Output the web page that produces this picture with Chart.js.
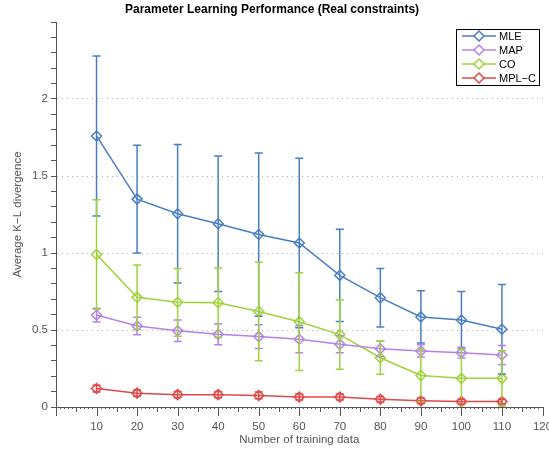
<!DOCTYPE html>
<html>
<head>
<meta charset="utf-8">
<script src="https://cdn.jsdelivr.net/npm/chart.js@4/dist/chart.umd.min.js"></script>
<style>
    html, body { margin: 0; padding: 0; background: #fff; }
    #wrap { width: 549px; height: 451px; position: relative; }
</style>
</head>
<body>
<div id="wrap"><canvas id="klChart"></canvas></div>
<script>
// Training set sizes
const trainSizes = [10, 20, 30, 40, 50, 60, 70, 80, 90, 100, 110];

// Average K-L divergence per method, with error bar half-lengths
const mleMean = [1.76, 1.35, 1.255, 1.19, 1.12, 1.065, 0.855, 0.71, 0.585, 0.565, 0.505];
const mleErr  = [0.52, 0.35, 0.45, 0.44, 0.53, 0.55, 0.30, 0.19, 0.17, 0.185, 0.29];

const mapMean = [0.597, 0.526, 0.495, 0.473, 0.457, 0.44, 0.407, 0.378, 0.364, 0.353, 0.338];
const mapErr  = [0.045, 0.057, 0.07, 0.068, 0.077, 0.087, 0.055, 0.05, 0.04, 0.035, 0.062];

const coMean = [0.99, 0.712, 0.68, 0.677, 0.62, 0.554, 0.47, 0.32, 0.205, 0.186, 0.186];
const coErr  = [0.355, 0.21, 0.22, 0.225, 0.32, 0.317, 0.225, 0.107, 0.17, 0.19, 0.18];

const mplcMean = [0.12, 0.09, 0.08, 0.08, 0.075, 0.065, 0.065, 0.05, 0.04, 0.035, 0.035];
const mplcErr  = [0.022, 0.02, 0.02, 0.02, 0.022, 0.02, 0.02, 0.018, 0.018, 0.016, 0.016];

const seriesNames = ['MLE', 'MAP', 'CO', 'MPL\u2212C'];
const seriesColors = ['#4a7ec3', '#b482e8', '#9fd23c', '#e24848'];
const seriesMeans = [mleMean, mapMean, coMean, mplcMean];
const seriesErrs = [mleErr, mapErr, coErr, mplcErr];

const FONT = '"Liberation Sans", Arial, sans-serif';

// Error bars drawn through the chart scales
const errorBarPlugin = {
    id: 'errorBars',
    afterDatasetsDraw(chart) {
        const ctx = chart.ctx;
        const xs = chart.scales.x, ys = chart.scales.y;
        const area = chart.chartArea;
        ctx.save();
        ctx.beginPath();
        ctx.rect(area.left, area.top - 2, area.right - area.left, area.bottom - area.top + 2);
        ctx.clip();
        seriesMeans.forEach(function(means, s) {
            ctx.strokeStyle = seriesColors[s];
            ctx.lineWidth = 1.5;
            means.forEach(function(m, i) {
                const px = xs.getPixelForValue(trainSizes[i]);
                const top = ys.getPixelForValue(m + seriesErrs[s][i]);
                const bot = ys.getPixelForValue(m - seriesErrs[s][i]);
                ctx.beginPath();
                ctx.moveTo(px, top); ctx.lineTo(px, bot);
                ctx.moveTo(px - 4, top); ctx.lineTo(px + 4, top);
                ctx.moveTo(px - 4, bot); ctx.lineTo(px + 4, bot);
                ctx.stroke();
            });
        });
        ctx.restore();
    }
};

// Ruler-style ticks on the x axis
const xTickPlugin = {
    id: 'xTicks',
    afterDraw(chart) {
        const ctx = chart.ctx;
        const xs = chart.scales.x;
        const y0 = chart.chartArea.bottom;
        ctx.save();
        ctx.strokeStyle = '#555';
        ctx.lineWidth = 1;
        for (let v = 0; v <= 120; v++) {
            const len = v % 10 === 0 ? 9 : (v % 5 === 0 ? 5 : 2);
            const px = Math.round(xs.getPixelForValue(v)) + 0.5;
            ctx.beginPath();
            ctx.moveTo(px, y0);
            ctx.lineTo(px, y0 + len);
            ctx.stroke();
        }
        ctx.restore();
    }
};

// Boxed legend with line + marker samples
const boxLegendPlugin = {
    id: 'boxLegend',
    afterDraw(chart) {
        const ctx = chart.ctx;
        const bx = 456, by = 29, bw = 83, bh = 56;
        ctx.save();
        ctx.fillStyle = '#fff';
        ctx.fillRect(bx, by, bw, bh);
        ctx.strokeStyle = '#000';
        ctx.lineWidth = 1;
        ctx.strokeRect(bx + 0.5, by + 0.5, bw, bh);
        ctx.font = '11px ' + FONT;
        ctx.textBaseline = 'middle';
        seriesNames.forEach(function(name, i) {
            const ry = by + 7 + i * 14;
            ctx.strokeStyle = seriesColors[i];
            ctx.lineWidth = 1.5;
            ctx.beginPath();
            ctx.moveTo(bx + 6, ry); ctx.lineTo(bx + 40, ry);
            ctx.stroke();
            ctx.beginPath();
            ctx.moveTo(bx + 23, ry - 5); ctx.lineTo(bx + 28, ry);
            ctx.lineTo(bx + 23, ry + 5); ctx.lineTo(bx + 18, ry);
            ctx.closePath();
            ctx.fillStyle = '#fff';
            ctx.fill();
            ctx.stroke();
            ctx.fillStyle = '#000';
            ctx.fillText(name, bx + 43, ry + 0.5);
        });
        ctx.restore();
    }
};

const datasets = seriesMeans.map(function(means, s) {
    return {
        label: seriesNames[s],
        data: trainSizes.map(function(x, i) { return { x: x, y: means[i] }; }),
        borderColor: seriesColors[s],
        backgroundColor: 'rgba(255,255,255,0)',
        borderWidth: 1.5,
        pointStyle: 'rectRot',
        pointRadius: 5,
        pointBorderWidth: 1.5,
        pointBackgroundColor: 'rgba(255,255,255,0)',
        tension: 0
    };
});

new Chart(document.getElementById('klChart').getContext('2d'), {
    type: 'line',
    data: { datasets: datasets },
    plugins: [errorBarPlugin, xTickPlugin, boxLegendPlugin],
    options: {
        responsive: true,
        maintainAspectRatio: false,
        animation: false,
        layout: { padding: { left: 0, right: 5, top: 0, bottom: 0 } },
        plugins: {
            legend: { display: false },
            tooltip: { enabled: false },
            title: {
                display: true,
                text: 'Parameter Learning Performance (Real constraints)',
                color: '#000',
                font: { family: FONT, size: 12, weight: 'bold' },
                padding: { top: 2, bottom: 5.6 }
            }
        },
        scales: {
            x: {
                type: 'linear',
                min: 0,
                max: 120,
                afterFit: function(scale) {
                    scale.height = 44;
                    scale.paddingLeft = 0;
                    scale.paddingRight = 0;
                },
                ticks: {
                    stepSize: 10,
                    autoSkip: false,
                    maxRotation: 0,
                    padding: 13,
                    color: '#555',
                    font: { family: FONT, size: 11.5 },
                    callback: function(v) { return v > 0 ? String(v) : ''; }
                },
                grid: { drawOnChartArea: false, drawTicks: false },
                border: { color: '#555', width: 1 },
                title: {
                    display: true,
                    text: 'Number of training data',
                    color: '#555',
                    font: { family: FONT, size: 11.5 },
                    padding: { top: 0, bottom: 4 }
                }
            },
            y: {
                min: 0,
                max: 2.5,
                afterFit: function(scale) { scale.width = 56; },
                ticks: {
                    stepSize: 0.1,
                    autoSkip: false,
                    padding: 3,
                    color: '#555',
                    font: { family: FONT, size: 11.5 },
                    callback: function(v) {
                        const t = Math.round(v * 10);
                        return (t % 5 === 0 && t < 25) ? String(t / 10) : '';
                    }
                },
                grid: {
                    tickLength: 5,
                    tickColor: '#555',
                    color: function(c) {
                        const t = Math.round(c.tick.value * 10);
                        return (t % 5 === 0 && t > 0 && t < 25) ? '#b0b0b0' : 'rgba(0,0,0,0)';
                    }
                },
                border: { color: '#555', width: 1, dash: [1, 4] },
                title: {
                    display: true,
                    text: 'Average K\u2212L divergence',
                    color: '#555',
                    font: { family: FONT, size: 11.5 },
                    padding: { top: 11, bottom: 0 }
                }
            }
        }
    }
});
</script>
</body>
</html>
